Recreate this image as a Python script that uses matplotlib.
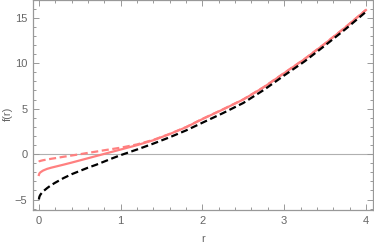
import numpy as np
import matplotlib
matplotlib.use("Agg")
import matplotlib.pyplot as plt
from matplotlib.ticker import MultipleLocator

plt.rcParams['font.family'] = ['Liberation Sans', 'DejaVu Sans']

# values
r_vals = [0.0, 0.005, 0.01, 0.02, 0.05, 0.1, 0.15, 0.2, 0.3, 0.4, 0.5, 0.6,
          0.7, 0.8, 0.9, 1.0, 1.2, 1.4, 1.6, 1.8, 2.0, 2.25, 2.5, 2.75, 3.0,
          3.25, 3.5, 3.75, 4.0]

f_black = [-5.0, -4.74, -4.62, -4.45, -4.12, -3.75, -3.42, -3.15, -2.65,
           -2.22, -1.86, -1.5, -1.18, -0.82, -0.46, -0.12, 0.5, 1.15, 1.85,
           2.6, 3.45, 4.5, 5.62, 7.05, 8.65, 10.2, 11.95, 13.75, 15.65]

f_pink = [-2.3, -2.16, -2.09, -2.0, -1.82, -1.63, -1.5, -1.39, -1.17, -0.94,
          -0.7, -0.46, -0.22, 0.02, 0.26, 0.5, 0.98, 1.52, 2.2, 2.95, 3.85,
          4.9, 6.0, 7.35, 8.9, 10.45, 12.15, 13.95, 15.85]

f_pink_dash = [-0.85, -0.8, -0.78, -0.75, -0.68, -0.6, -0.52, -0.45, -0.3,
               -0.16, -0.02, 0.13, 0.27, 0.42, 0.56, 0.7, 1.06, 1.56, 2.22,
               2.97, 3.87, 4.92, 6.02, 7.37, 8.92, 10.47, 12.17, 13.97, 15.87]

PINK = "#ff8080"

fig = plt.figure(figsize=(3.74, 2.43), dpi=100)
ax = fig.add_axes([0.088, 0.136, 0.909, 0.862])

ax.axhline(0, color="#b0b0b0", lw=0.8, zorder=1)
ax.plot(r_vals, f_pink, color=PINK, lw=1.6, zorder=3)
ax.plot(r_vals, f_pink_dash, color=PINK, lw=1.6, dashes=(3.2, 1.6), zorder=3)
ax.plot(r_vals, f_black, color="black", lw=1.6, dashes=(3.2, 1.6), zorder=4)

ax.set_xlim(-0.073, 4.085)
ax.set_ylim(-6.15, 16.9)

ax.xaxis.set_major_locator(MultipleLocator(1))
ax.xaxis.set_minor_locator(MultipleLocator(0.2))
ax.yaxis.set_major_locator(MultipleLocator(5))
ax.yaxis.set_minor_locator(MultipleLocator(1))

for s in ax.spines.values():
    s.set_color("#999999")
    s.set_linewidth(0.9)

ax.tick_params(which="both", direction="in", top=True, right=True,
               color="#999999", width=0.7, labelcolor="#666666",
               labelsize=8)
ax.tick_params(which="major", length=4, pad=4)
ax.tick_params(which="minor", length=2)

ax.set_xticks([0, 1, 2, 3, 4])
ax.set_xticklabels(["0", "1", "2", "3", "4"])
ax.set_yticks([-5, 0, 5, 10, 15])
ax.set_yticklabels(["\u22125", "0", "5", "10", "15"])

ax.set_xlabel("r", color="#666666", fontsize=8)
ax.set_ylabel("f(r)", color="#666666", fontsize=8)
ax.xaxis.set_label_coords(0.5, -0.115)
ax.yaxis.set_label_coords(-0.06, 0.46)

fig.savefig("out.png", dpi=100)
